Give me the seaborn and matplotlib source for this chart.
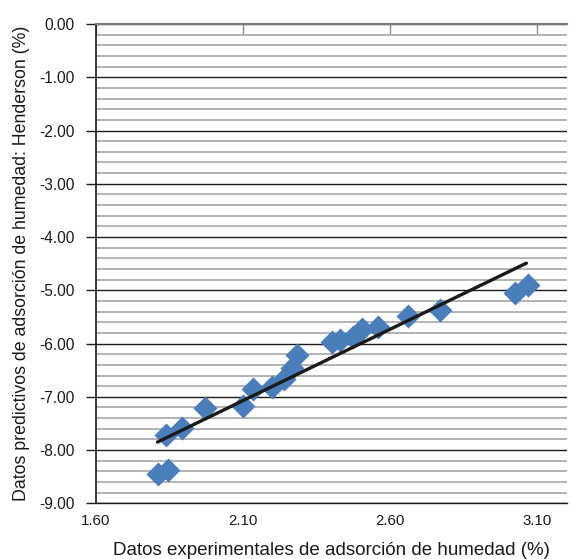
import pandas as pd
import matplotlib
matplotlib.use("Agg")
import matplotlib.pyplot as plt
import seaborn as sns
from matplotlib.ticker import MultipleLocator, FormatStrFormatter

exp_x = [1.812, 1.846, 1.839, 1.894, 1.972, 2.101, 2.135, 2.200, 2.241, 2.268,
         2.285, 2.404, 2.431, 2.475, 2.506, 2.560, 2.662, 2.771, 3.023, 3.070]
pred_y = [-8.45, -8.37, -7.72, -7.59, -7.21, -7.17, -6.85, -6.82, -6.67, -6.46,
          -6.21, -5.97, -5.93, -5.88, -5.73, -5.69, -5.48, -5.37, -5.05, -4.90]

# Linea de tendencia
trend_x = [1.81, 3.063]
trend_y = [-7.85, -4.49]

x_ticks = [1.60, 2.10, 2.60, 3.10]

df = pd.DataFrame({'exp': exp_x, 'pred': pred_y})
df_trend = pd.DataFrame({'exp': trend_x, 'pred': trend_y})

sns.set_theme(style="white")
plt.rcParams['font.family'] = ['Liberation Sans', 'DejaVu Sans']
plt.rcParams['axes.unicode_minus'] = False

fig = plt.figure(figsize=(5.71, 5.59), dpi=100)
ax = fig.add_axes([0.1676, 0.0996, 0.8249, 0.8574])

sns.scatterplot(data=df, x='exp', y='pred', marker='D', s=150, color='#4a7ebb',
                linewidth=0, ax=ax, zorder=3)
sns.lineplot(data=df_trend, x='exp', y='pred', color='#1a1a1a', linewidth=2.4,
             ax=ax, zorder=4)

ax.set_xlim(1.6, 3.2)
ax.set_ylim(-9, 0)

# Lineas de cuadricula
ax.yaxis.set_major_locator(MultipleLocator(1))
ax.yaxis.set_minor_locator(MultipleLocator(0.2))
ax.yaxis.set_major_formatter(FormatStrFormatter('%.2f'))
ax.grid(which='major', axis='y', color='#1a1a1a', linewidth=1.0, zorder=1)
ax.grid(which='minor', axis='y', color='#a6a6a6', linewidth=1.2, zorder=1)
ax.grid(False, axis='x')
ax.set_axisbelow(True)

ax.set_xticks(x_ticks)
ax.xaxis.set_major_formatter(FormatStrFormatter('%.2f'))
ax.tick_params(axis='x', bottom=False, top=True, labelbottom=True, labeltop=False,
               direction='in', length=7, width=1, color='#8c8c8c', pad=8,
               labelsize=10.8, labelcolor='#1a1a1a')
ax.tick_params(axis='y', which='major', left=True, direction='out', length=7,
               width=1, color='#1a1a1a', pad=8, labelsize=11.2, labelcolor='#1a1a1a')
ax.tick_params(axis='y', which='minor', left=False)

ax.spines['right'].set_visible(False)
ax.spines['top'].set_color('#7a7a7a')
ax.spines['top'].set_linewidth(1.5)
ax.spines['left'].set_color('#1a1a1a')
ax.spines['left'].set_linewidth(1.2)
ax.spines['bottom'].set_color('#1a1a1a')
ax.spines['bottom'].set_linewidth(1.0)

ax.set_xlabel('Datos experimentales de adsorción de humedad (%)', fontsize=13.5,
              color='#1a1a1a', labelpad=10)
ax.set_ylabel('Datos predictivos de adsorción de humedad: Henderson (%)', fontsize=12.8,
              color='#1a1a1a', labelpad=7)

plt.savefig('out.png', dpi=100)
